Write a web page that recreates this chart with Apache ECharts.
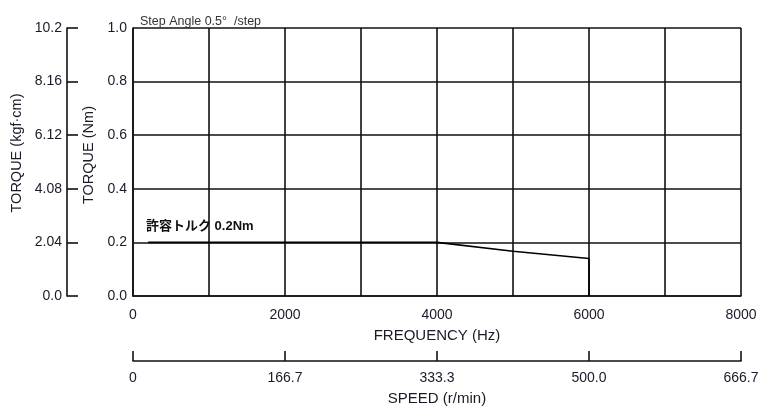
<!DOCTYPE html>
<html>
<head>
<meta charset="utf-8">
<script src="https://cdn.jsdelivr.net/npm/echarts@6/dist/echarts.min.js"></script>
<style>
html,body{margin:0;padding:0;background:#fff;}
#chart{width:761px;height:406px;}
</style>
</head>
<body>
<div id="chart"></div>
<script>
// ---- data ----
var torqueCurve = [[200, 0.2], [4000, 0.2], [5000, 0.167], [6000, 0.14], [6000, 0]];
var freqTicks = [0, 2000, 4000, 6000, 8000];
var speedLabels = ['0', '166.7', '333.3', '500.0', '666.7'];
var nmLabels = ['0.0', '0.2', '0.4', '0.6', '0.8', '1.0'];
var kgfLabels = ['0.0', '2.04', '4.08', '6.12', '8.16', '10.2'];
var annotationText = '許容トルク 0.2Nm';
var stepAngleText = 'Step Angle 0.5°  /step';

var FONT = 'Liberation Sans, Arial, Noto Sans CJK JP, sans-serif';
var TXT = '#1a1a28';
var LINE = '#111';

var chart = echarts.init(document.getElementById('chart'), null, {renderer: 'canvas'});
chart.setOption({
  animation: false,
  backgroundColor: '#fff',
  textStyle: {fontFamily: FONT},
  title: {
    text: stepAngleText,
    left: 135, top: 10,
    textStyle: {fontSize: 12.5, fontWeight: 'normal', color: '#333', fontFamily: FONT}
  },
  grid: {left: 133, right: 20, top: 28, bottom: 110, containLabel: false, outerBoundsMode: 'none'},
  xAxis: [{
    type: 'value', min: 0, max: 8000, interval: 1000, position: 'bottom',
    axisLine: {show: true, lineStyle: {color: LINE, width: 1.6}},
    axisTick: {show: false},
    splitLine: {show: true, lineStyle: {color: LINE, width: 1.6}},
    axisLabel: {
      fontSize: 14, color: TXT, margin: 12, fontFamily: FONT,
      formatter: function (v) { return freqTicks.indexOf(v) >= 0 ? String(v) : ''; }
    },
    name: 'FREQUENCY (Hz)', nameLocation: 'middle', nameGap: 32,
    nameTextStyle: {fontSize: 15, color: TXT, fontFamily: FONT}
  }, {
    type: 'value', min: 0, max: 8000, interval: 2000, position: 'bottom', offset: 65,
    axisLine: {show: true, onZero: false, lineStyle: {color: LINE, width: 1.6}},
    axisTick: {show: true, inside: true, length: 10, lineStyle: {color: LINE, width: 1.6}},
    splitLine: {show: false},
    axisLabel: {
      fontSize: 14, color: TXT, margin: 10, fontFamily: FONT,
      formatter: function (v, i) { return speedLabels[i]; }
    },
    name: 'SPEED (r/min)', nameLocation: 'middle', nameGap: 30,
    nameTextStyle: {fontSize: 15, color: TXT, fontFamily: FONT}
  }],
  yAxis: [{
    type: 'value', min: 0, max: 1, interval: 0.2, position: 'left',
    axisLine: {show: true, onZero: false, lineStyle: {color: LINE, width: 1.6}},
    axisTick: {show: false},
    splitLine: {show: true, lineStyle: {color: LINE, width: 1.6}},
    axisLabel: {
      fontSize: 14, color: TXT, margin: 6, fontFamily: FONT,
      formatter: function (v, i) { return nmLabels[i]; }
    },
    name: 'TORQUE (Nm)', nameLocation: 'middle', nameGap: 33, nameRotate: 90,
    nameTextStyle: {fontSize: 14.5, color: TXT, fontFamily: FONT, padding: [0, 0, 0, 14]}
  }, {
    type: 'value', min: 0, max: 10.2, interval: 2.04, position: 'left', offset: 66,
    axisLine: {show: true, onZero: false, lineStyle: {color: LINE, width: 1.6}},
    axisTick: {show: true, inside: true, length: 11, lineStyle: {color: LINE, width: 1.6}},
    splitLine: {show: false},
    axisLabel: {
      fontSize: 14, color: TXT, margin: 5, fontFamily: FONT,
      formatter: function (v, i) { return kgfLabels[i]; }
    },
    name: 'TORQUE (kgf·cm)', nameLocation: 'middle', nameGap: 42, nameRotate: 90,
    nameTextStyle: {fontSize: 14.5, color: TXT, fontFamily: FONT, padding: [0, 0, 0, 18]}
  }],
  graphic: [{
    type: 'text', left: 146, top: 220,
    style: {text: annotationText, fontSize: 13, fontWeight: 'bold', fill: '#111', fontFamily: FONT}
  }],
  series: [{
    type: 'line', xAxisIndex: 0, yAxisIndex: 0,
    data: torqueCurve, showSymbol: false, symbol: 'none',
    lineStyle: {color: '#000', width: 1.6},
    z: 5
  }]
});
</script>
</body>
</html>
